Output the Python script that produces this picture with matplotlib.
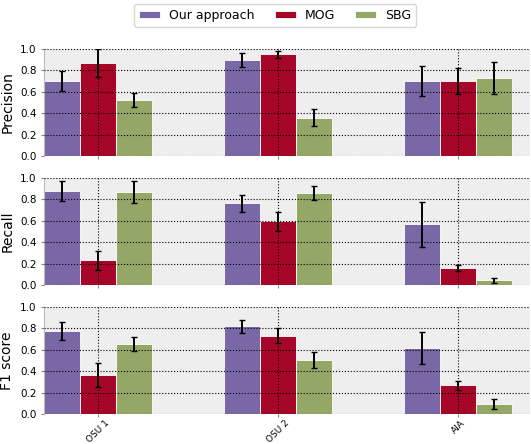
import matplotlib.pyplot as plt
import numpy as np

datasets = ["OSU 1", "OSU 2", "AIA"]
methods = ["Our approach", "MOG", "SBG"]
colors = ["#7A68A6", "#A60628", "#94A766"]
metrics = ["Precision", "Recall", "F1 score"]

# values[metric][method] -> one per dataset
precision = [[0.70, 0.90, 0.70], [0.87, 0.95, 0.70], [0.52, 0.36, 0.73]]
precision_err = [[0.09, 0.065, 0.14], [0.13, 0.03, 0.125], [0.065, 0.075, 0.15]]
recall = [[0.88, 0.765, 0.57], [0.23, 0.595, 0.16], [0.87, 0.86, 0.045]]
recall_err = [[0.09, 0.08, 0.21], [0.085, 0.09, 0.03], [0.10, 0.065, 0.025]]
f1 = [[0.776, 0.82, 0.62], [0.365, 0.73, 0.267], [0.65, 0.505, 0.093]]
f1_err = [[0.08, 0.06, 0.15], [0.115, 0.07, 0.045], [0.065, 0.075, 0.048]]

values = [precision, recall, f1]
errors = [precision_err, recall_err, f1_err]

fig = plt.figure(figsize=(5.31, 4.44), dpi=100)
x = np.arange(len(datasets))
width = 0.2
tops = [0.8896, 0.599, 0.3086]
height = 0.241
axes = []
for k, metric in enumerate(metrics):
    ax = fig.add_axes([0.083, tops[k] - height, 0.915, height])
    ax.set_facecolor("#EEEEEE")
    for i, method in enumerate(methods):
        ax.bar(x - 0.3 + i * width, values[k][i], width, align="edge",
               color=colors[i], edgecolor="white", linewidth=0.6,
               label=method, zorder=1)
        ax.errorbar(x - 0.2 + i * width, values[k][i], yerr=errors[k][i],
                    fmt="none", ecolor="black", elinewidth=1.4, capsize=2.5,
                    capthick=1.0, zorder=3)
    ax.set_xlim(-0.3, 2.4)
    ax.set_ylim(0, 1.0)
    ax.set_yticks([0.0, 0.2, 0.4, 0.6, 0.8, 1.0])
    ax.set_xticks(x)
    ax.grid(True, color="black", linestyle=":", linewidth=0.8, zorder=2)
    ax.set_axisbelow(False)
    for s in ["top", "right", "bottom"]:
        ax.spines[s].set_visible(False)
    ax.spines["left"].set_color("#BBBBBB")
    ax.tick_params(axis="both", labelsize=7.5, length=2, color="#888888")
    ax.tick_params(axis="x", pad=1)
    ax.set_ylabel(metric, fontsize=10)
    if k < 2:
        ax.set_xticklabels([])
    else:
        ax.set_xticklabels(datasets, rotation=45, ha="center", fontsize=6.5)
    axes.append(ax)

handles, labels = axes[0].get_legend_handles_labels()
fig.legend(handles, labels, loc="upper center", ncol=3, fontsize=9,
           bbox_to_anchor=(0.518, 1.0), frameon=True, fancybox=True,
           columnspacing=1.6, handlelength=1.7, handleheight=0.5,
           handletextpad=0.7, borderaxespad=0.3)

fig.savefig("out.png", dpi=100)
